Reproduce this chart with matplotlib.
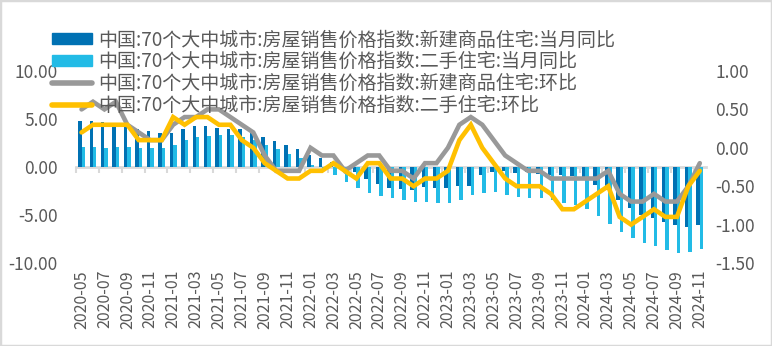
import numpy as np
import pandas as pd
import matplotlib.pyplot as plt
from matplotlib.patches import Rectangle
from matplotlib.lines import Line2D

plt.rcParams['font.family'] = ['Noto Sans CJK SC', 'DejaVu Sans']

# 70 大中城市房价指数，2020-05 ~ 2024-11
months = [p.strftime('%Y-%m') for p in pd.period_range('2020-05', '2024-11', freq='M')]

# 当月同比 (%), 左轴
new_yoy = [4.8, 4.8, 4.7, 4.6, 4.4, 4.0, 3.8, 3.5, 3.5, 4.0,
           4.3, 4.3, 4.1, 4.0, 4.0, 3.5, 3.1, 2.7, 2.3, 1.9,
           1.2, 0.9, 0.5, 0.0, -0.5, -1.2, -1.8, -2.2, -2.3, -2.35,
           -2.1, -2.2, -2.2, -2.0, -2.0, -0.8, -0.5, -0.4, -0.6, -0.5,
           -0.7, -0.8, -0.8, -0.9, -1.0, -1.9, -2.4, -3.4, -4.3, -5.0,
           -5.3, -5.7, -6.0, -6.2, -6.0]
old_yoy = [2.1, 2.1, 2.0, 2.1, 2.1, 2.0, 2.0, 2.0, 2.3, 2.8,
           3.1, 3.2, 3.3, 3.3, 3.1, 2.8, 2.3, 1.9, 1.4, 0.9,
           0.2, -0.2, -0.8, -1.6, -2.2, -2.7, -3.0, -3.2, -3.4, -3.6,
           -3.6, -3.8, -3.7, -3.4, -2.9, -2.7, -2.6, -2.9, -3.1, -3.2,
           -3.2, -3.4, -3.7, -4.0, -4.4, -5.1, -5.9, -6.8, -7.4, -7.9,
           -8.2, -8.6, -9.0, -8.9, -8.5]

# 环比 (%), 右轴
new_mom = [0.5, 0.6, 0.5, 0.6, 0.3, 0.2, 0.1, 0.1, 0.3, 0.4,
           0.4, 0.5, 0.5, 0.4, 0.3, 0.2, -0.1, -0.3, -0.3, -0.3,
           0.0, -0.1, -0.1, -0.3, -0.2, -0.1, -0.1, -0.3, -0.3, -0.4,
           -0.2, -0.2, 0.0, 0.3, 0.4, 0.3, 0.1, -0.1, -0.2, -0.3,
           -0.3, -0.4, -0.4, -0.4, -0.4, -0.4, -0.3, -0.6, -0.7, -0.7,
           -0.6, -0.7, -0.7, -0.5, -0.2]
old_mom = [0.2, 0.3, 0.3, 0.3, 0.3, 0.1, 0.1, 0.1, 0.4, 0.3,
           0.4, 0.4, 0.3, 0.3, 0.1, 0.0, -0.2, -0.3, -0.4, -0.4,
           -0.3, -0.3, -0.2, -0.3, -0.4, -0.2, -0.2, -0.4, -0.4, -0.5,
           -0.4, -0.4, -0.3, 0.1, 0.3, 0.0, -0.2, -0.4, -0.5, -0.5,
           -0.5, -0.6, -0.8, -0.8, -0.7, -0.6, -0.5, -0.9, -1.0, -0.9,
           -0.8, -0.9, -0.9, -0.5, -0.3]

labels = ['中国:70个大中城市:房屋销售价格指数:新建商品住宅:当月同比',
          '中国:70个大中城市:房屋销售价格指数:二手住宅:当月同比',
          '中国:70个大中城市:房屋销售价格指数:新建商品住宅:环比',
          '中国:70个大中城市:房屋销售价格指数:二手住宅:环比']

c_dark = '#0071b3'
c_light = '#22bbe6'
c_grey = '#999999'
c_yellow = '#ffc000'
c_text = '#595959'
c_axis = '#d9d9d9'

x = np.arange(len(months))

fig = plt.figure(figsize=(7.72, 3.46), dpi=100)
ax = fig.add_axes([0.0982, 0.2399, 0.8157, 0.5549])
ax2 = ax.twinx()

w = 0.3
ax.bar(x - w / 2, new_yoy, width=w, color=c_dark, zorder=2)
ax.bar(x + w / 2, old_yoy, width=w, color=c_light, zorder=2)

ax2.plot(x, new_mom, color=c_grey, lw=3.3, solid_capstyle='round', solid_joinstyle='miter')
ax2.plot(x, old_mom, color=c_yellow, lw=3.3, solid_capstyle='round', solid_joinstyle='miter')

ax.set_xlim(-0.5, len(months) - 0.5)
ax.set_ylim(-10, 10)
ax.set_yticks([-10, -5, 0, 5, 10])
ax.set_yticklabels([f'{v:.2f}' for v in [-10, -5, 0, 5, 10]])
ax2.set_ylim(-1.5, 1.0)
ax2.set_yticks([-1.5, -1.0, -0.5, 0.0, 0.5, 1.0])
ax2.set_yticklabels([f'{v:.2f}' for v in [-1.5, -1.0, -0.5, 0.0, 0.5, 1.0]])

for a in (ax, ax2):
    for s in ('top', 'left', 'right'):
        a.spines[s].set_visible(False)
    a.tick_params(axis='y', length=0, labelsize=12.5, labelcolor=c_text)
ax.tick_params(axis='y', pad=13)
ax2.tick_params(axis='y', pad=7)
ax2.spines['bottom'].set_visible(False)

# 零轴与分类刻度
ax.spines['bottom'].set_position(('data', 0))
ax.spines['bottom'].set_color(c_axis)
ax.spines['bottom'].set_linewidth(2)
ax.spines['bottom'].set_zorder(1)
ax.set_xticks(np.arange(-0.5, len(months), 2))
ax.tick_params(axis='x', length=4, width=1.5, color=c_axis, labelbottom=False)

# 日期标签放在底部
sec = ax.secondary_xaxis(0)
sec.set_xticks(x[::2])
sec.set_xticklabels(months[::2], rotation=90)
sec.tick_params(length=0, labelsize=11.5, labelcolor=c_text, pad=5)
sec.spines['bottom'].set_visible(False)

handles = [Rectangle((0, 0), 1, 1, color=c_dark),
           Rectangle((0, 0), 1, 1, color=c_light),
           Line2D([], [], color=c_grey, lw=4, solid_capstyle='round'),
           Line2D([], [], color=c_yellow, lw=4, solid_capstyle='round')]
leg = fig.legend(handles, labels, loc='upper left', bbox_to_anchor=(0.068, 0.915),
                 frameon=False, fontsize=13.7, labelcolor=c_text, handlelength=2.1,
                 handleheight=0.5, handletextpad=0.3, labelspacing=0.04,
                 borderaxespad=0, borderpad=0)

fig.patches.append(Rectangle((0, 0), 1, 1, transform=fig.transFigure, fill=False,
                             edgecolor=c_axis, lw=2.5))

fig.savefig('out.png', dpi=100)
